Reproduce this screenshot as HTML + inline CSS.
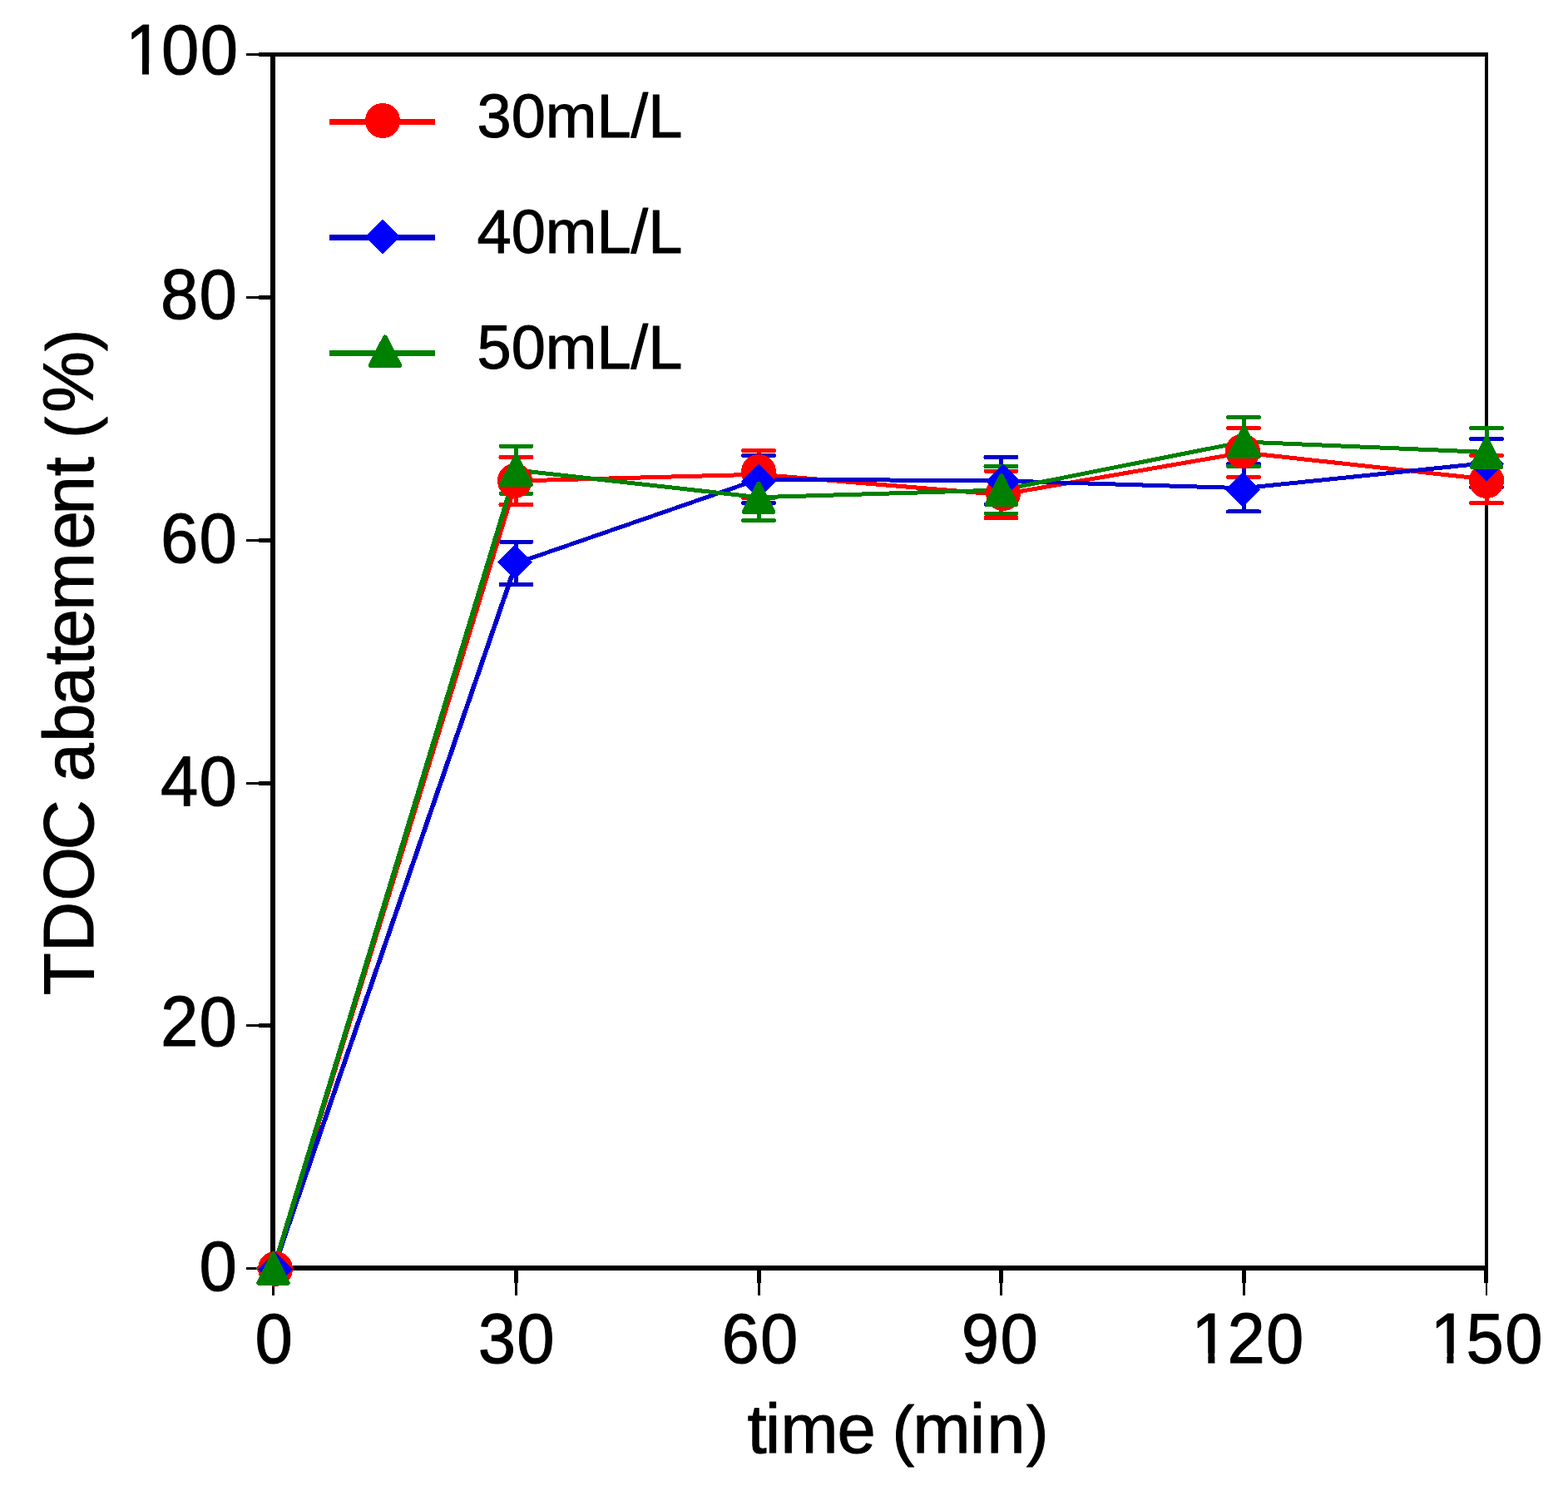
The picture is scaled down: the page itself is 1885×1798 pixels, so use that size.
<!DOCTYPE html>
<html lang="en"><head><meta charset="utf-8"><title>TDOC abatement vs time</title>
<style>
html,body{margin:0;padding:0;background:#fff;}
body{width:1885px;height:1798px;overflow:hidden;}
svg{display:block;}
text{font-family:"Liberation Sans",sans-serif;fill:#000;stroke:#000;stroke-width:1px;stroke-linejoin:round;}
.tk{font-size:84px;}
.ttl{font-size:83.3px;}
.lg{font-size:74px;}
</style></head><body>
<svg width="1885" height="1798" viewBox="0 0 1885 1798" role="img" aria-label="TDOC abatement versus time for three doses">
<rect x="0" y="0" width="1885" height="1798" fill="#ffffff"/>
<g fill="#000" shape-rendering="crispEdges">
<rect x="325" y="63" width="6" height="1464"/>
<rect x="325" y="1521" width="1464" height="6"/>
<rect x="325" y="63" width="1464" height="5"/>
<rect x="1785" y="63" width="4" height="1464"/>
<rect x="311" y="63.0" width="14" height="5"/>
<rect x="296" y="64.0" width="15" height="3"/>
<rect x="311" y="355.0" width="14" height="5"/>
<rect x="296" y="356.0" width="15" height="3"/>
<rect x="311" y="647.0" width="14" height="5"/>
<rect x="296" y="648.0" width="15" height="3"/>
<rect x="311" y="939.0" width="14" height="5"/>
<rect x="296" y="940.0" width="15" height="3"/>
<rect x="311" y="1230.0" width="14" height="5"/>
<rect x="296" y="1231.0" width="15" height="3"/>
<rect x="311" y="1522.0" width="14" height="5"/>
<rect x="296" y="1523.0" width="15" height="3"/>
<rect x="326.0" y="1527" width="5" height="15"/>
<rect x="327.0" y="1542" width="3" height="15"/>
<rect x="618.0" y="1527" width="5" height="15"/>
<rect x="619.0" y="1542" width="3" height="15"/>
<rect x="910.0" y="1527" width="5" height="15"/>
<rect x="911.0" y="1542" width="3" height="15"/>
<rect x="1201.0" y="1527" width="5" height="15"/>
<rect x="1202.0" y="1542" width="3" height="15"/>
<rect x="1493.0" y="1527" width="5" height="15"/>
<rect x="1494.0" y="1542" width="3" height="15"/>
<rect x="1784.0" y="1527" width="5" height="15"/>
<rect x="1786" y="1542" width="2" height="15"/>
</g>
<g fill="none" stroke-linecap="round" shape-rendering="crispEdges">
<path d="M310.5,1524.5H347.5" stroke="#ff0000" stroke-width="5"/>
<path d="M620.5,549.5V606.5M602.0,549.5H639.0M602.0,606.5H639.0" stroke="#ff0000" stroke-width="5"/>
<path d="M912,541.5V598.8M893.5,541.5H930.5M893.5,598.8H930.5" stroke="#ff0000" stroke-width="5"/>
<path d="M1203.5,566.4V622.6M1185.0,566.4H1222.0M1185.0,622.6H1222.0" stroke="#ff0000" stroke-width="5"/>
<path d="M1495,514.4V573.5M1476.5,514.4H1513.5M1476.5,573.5H1513.5" stroke="#ff0000" stroke-width="5"/>
<path d="M1787,547.5V604.5M1768.5,547.5H1805.5M1768.5,604.5H1805.5" stroke="#ff0000" stroke-width="5"/>
<path d="M310.5,1524.5H347.5" stroke="#0000cd" stroke-width="5"/>
<path d="M620.5,651.4V702.6M602.0,651.4H639.0M602.0,702.6H639.0" stroke="#0000cd" stroke-width="5"/>
<path d="M912,547.5V604.5M893.5,547.5H930.5M893.5,604.5H930.5" stroke="#0000cd" stroke-width="5"/>
<path d="M1203.5,549.5V606.2M1185.0,549.5H1222.0M1185.0,606.2H1222.0" stroke="#0000cd" stroke-width="5"/>
<path d="M1495,557.2V614.9M1476.5,557.2H1513.5M1476.5,614.9H1513.5" stroke="#0000cd" stroke-width="5"/>
<path d="M1787,527.5V585.4M1768.5,527.5H1805.5M1768.5,585.4H1805.5" stroke="#0000cd" stroke-width="5"/>
<path d="M310.5,1524.5H347.5" stroke="#008000" stroke-width="5"/>
<path d="M620.5,536.4V593.4M602.0,536.4H639.0M602.0,593.4H639.0" stroke="#008000" stroke-width="5"/>
<path d="M912,569.5V625.5M893.5,569.5H930.5M893.5,625.5H930.5" stroke="#008000" stroke-width="5"/>
<path d="M1203.5,560.5V617.4M1185.0,560.5H1222.0M1185.0,617.4H1222.0" stroke="#008000" stroke-width="5"/>
<path d="M1495,501.4V560.5M1476.5,501.4H1513.5M1476.5,560.5H1513.5" stroke="#008000" stroke-width="5"/>
<path d="M1787,514.5V574M1768.5,514.5H1805.5M1768.5,574H1805.5" stroke="#008000" stroke-width="5"/>
</g>
<g fill="none" stroke-linejoin="round" stroke-linecap="round" shape-rendering="crispEdges">
<polyline points="620.5,578 912,570.2 1203.5,594.5 1495,544 1787,576" stroke="#ff0000" stroke-width="5.0"/>
<line x1="329" y1="1524.5" x2="620.5" y2="578" stroke="#ff0000" stroke-width="5.6"/>
<polyline points="620.5,677 912,576 1203.5,577.85 1495,586.7 1787,556.5" stroke="#0000cd" stroke-width="5.0"/>
<line x1="329" y1="1524.5" x2="620.5" y2="677" stroke="#0000cd" stroke-width="5.6"/>
<polyline points="620.5,565 912,597.7 1203.5,589 1495,531 1787,543.5" stroke="#008000" stroke-width="5.0"/>
<line x1="329" y1="1524.5" x2="620.5" y2="565" stroke="#008000" stroke-width="5.6"/>
</g>
<g shape-rendering="crispEdges">
<circle cx="331" cy="1525" r="21" fill="#ff0000"/>
<circle cx="619" cy="577.8" r="21" fill="#ff0000"/>
<circle cx="912" cy="567" r="21" fill="#ff0000"/>
<circle cx="1206" cy="593" r="21" fill="#ff0000"/>
<circle cx="1494" cy="542.3" r="21" fill="#ff0000"/>
<circle cx="1787" cy="578" r="21" fill="#ff0000"/>
<polygon points="310,1525.5 331,1504.8 352,1525.5 331,1546.2" fill="#0000ff"/>
<polygon points="598,675.7 619,655.0 640,675.7 619,696.4" fill="#0000ff"/>
<polygon points="891,578.3 912,557.6 933,578.3 912,599.0" fill="#0000ff"/>
<polygon points="1185,578.4 1206,557.7 1227,578.4 1206,599.1" fill="#0000ff"/>
<polygon points="1473,588.6 1494,567.9 1515,588.6 1494,609.3" fill="#0000ff"/>
<polygon points="1766,557.8 1787,537.1 1808,557.8 1787,578.5" fill="#0000ff"/>
<polygon points="328.5,1508.20 345.70,1541.80 311.30,1541.80" fill="#008000" stroke="#008000" stroke-width="6.0" stroke-linejoin="round"/>
<polygon points="620.5,548.70 637.70,582.30 603.30,582.30" fill="#008000" stroke="#008000" stroke-width="6.0" stroke-linejoin="round"/>
<polygon points="912,581.60 929.20,615.20 894.80,615.20" fill="#008000" stroke="#008000" stroke-width="6.0" stroke-linejoin="round"/>
<polygon points="1203.9,572.40 1221.10,606.00 1186.70,606.00" fill="#008000" stroke="#008000" stroke-width="6.0" stroke-linejoin="round"/>
<polygon points="1495.5,514.70 1512.70,548.30 1478.30,548.30" fill="#008000" stroke="#008000" stroke-width="6.0" stroke-linejoin="round"/>
<polygon points="1787,527.60 1804.20,561.20 1769.80,561.20" fill="#008000" stroke="#008000" stroke-width="6.0" stroke-linejoin="round"/>
</g>
<g shape-rendering="crispEdges">
<rect x="396" y="143" width="127" height="7" fill="#ff0000" shape-rendering="crispEdges"/>
<circle cx="460" cy="145" r="21" fill="#ff0000"/>
<rect x="396" y="282" width="127" height="7" fill="#0000cd" shape-rendering="crispEdges"/>
<polygon points="439,284.4 460,263.7 481,284.4 460,305.1" fill="#0000ff"/>
<rect x="396" y="421" width="127" height="7" fill="#008000" shape-rendering="crispEdges"/>
<polygon points="462.9,405.60 480.10,439.20 445.70,439.20" fill="#008000" stroke="#008000" stroke-width="6.0" stroke-linejoin="round"/>
<text class="lg" transform="translate(573.5,165.2) scale(1,1.01)">30mL/L</text>
<text class="lg" transform="translate(573.5,304.2) scale(1,1.01)">40mL/L</text>
<text class="lg" transform="translate(573.5,443.2) scale(1,1.01)">50mL/L</text>
</g>
<defs><clipPath id="plain1"><path clip-rule="evenodd" d="M-200,-100H20V40H-200Z M-138.68,-12H-119.98V3H-138.68Z M-111.73,-12H-95.68V3H-111.73Z"/></clipPath></defs>
<g class="tk">
<text transform="translate(287.34,88.6) scale(0.97,1.022)" x="-140.68 -96.19 -48.09" clip-path="url(#plain1)">100</text>
<text transform="translate(286.24,382.7) scale(0.97,1.022)" x="-96.19 -48.09">80</text>
<text transform="translate(286.24,675.5) scale(0.97,1.022)" x="-96.19 -48.09">60</text>
<text transform="translate(286.24,968.4) scale(0.97,1.022)" x="-96.19 -48.09">40</text>
<text transform="translate(286.24,1256.5) scale(0.97,1.022)" x="-96.19 -48.09">20</text>
<text transform="translate(286.24,1550.6) scale(0.97,1.022)" x="-48.09">0</text>
<text transform="translate(353.14,1638.4) scale(0.97,1.022)" x="-48.09">0</text>
<text transform="translate(667.94,1638.4) scale(0.97,1.022)" x="-96.19 -48.09">30</text>
<text transform="translate(960.74,1638.4) scale(0.97,1.022)" x="-96.19 -48.09">60</text>
<text transform="translate(1249.04,1638.4) scale(0.97,1.022)" x="-96.19 -48.09">90</text>
<text transform="translate(1568.74,1638.4) scale(0.97,1.022)" x="-140.68 -96.19 -48.09" clip-path="url(#plain1)">120</text>
<text transform="translate(1855.84,1638.4) scale(0.97,1.022)" x="-140.68 -96.19 -48.09" clip-path="url(#plain1)">150</text>
</g>
<text class="ttl" y="1746.3"><tspan x="898.6 919.8 938.2 1006.5 1036.5">time </tspan><tspan x="1072.5" font-size="80.4">(</tspan><tspan x="1097.3 1165.8 1186.2">min</tspan><tspan x="1233.8" font-size="80.4">)</tspan></text>
<text class="ttl" transform="translate(112.1,0) rotate(-90) scale(1,1.02)"><tspan x="-1195.9 -1143.9 -1082.7 -1021.5 -991.5 -939.5 -891.8 -847.4 -799.2 -778.4 -733.8 -660.4 -618.6 -572.2 -542.2">TDOC abatement </tspan><tspan x="-527.1" font-size="78.8">(</tspan><tspan x="-496.0">%</tspan><tspan x="-421.9" font-size="78.8">)</tspan></text>
</svg></body></html>
